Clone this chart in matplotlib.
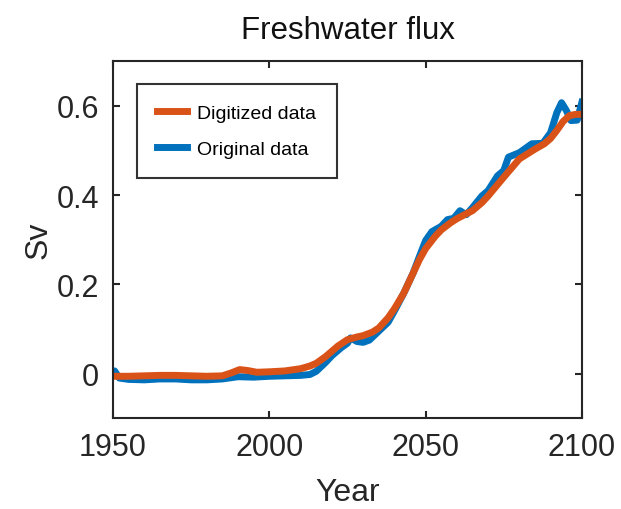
import matplotlib
matplotlib.use('Agg')
import matplotlib.pyplot as plt

plt.rcParams['font.family'] = ['Liberation Sans', 'DejaVu Sans']

dig_years = [1950, 1955, 1960, 1965, 1970, 1975, 1980, 1985, 1988, 1990.5, 1993, 1996,
             2000, 2005, 2010, 2013, 2015, 2018, 2020, 2022, 2025, 2028, 2030, 2033, 2035,
             2038, 2040, 2043, 2045, 2048, 2050, 2053, 2055, 2058, 2060, 2063, 2065, 2068,
             2070, 2075, 2080, 2085, 2088, 2090, 2092, 2094, 2096, 2098, 2100]
dig_vals = [-0.006, -0.006, -0.005, -0.004, -0.004, -0.005, -0.006, -0.005, 0.002, 0.009,
            0.007, 0.003, 0.004, 0.006, 0.011, 0.017, 0.023, 0.038, 0.05, 0.062, 0.076,
            0.082, 0.085, 0.093, 0.102, 0.125, 0.145, 0.18, 0.21, 0.255, 0.28, 0.307,
            0.322, 0.338, 0.347, 0.358, 0.365, 0.383, 0.398, 0.44, 0.481, 0.503, 0.515,
            0.527, 0.545, 0.565, 0.578, 0.581, 0.581]

# original curve (blue)
orig_years = [1950, 1950.5, 1952, 1955, 1960, 1965, 1970, 1975, 1980, 1985, 1990, 1995,
              2000, 2005, 2010, 2013, 2015, 2018, 2020, 2023, 2025, 2026, 2028, 2030,
              2032, 2035, 2038, 2040, 2043, 2046, 2048, 2050, 2052, 2055, 2057, 2059,
              2061, 2063, 2065, 2068, 2070, 2073, 2075, 2076.5, 2080, 2084, 2087.5,
              2090, 2092, 2093.5, 2095, 2096.5, 2098.5, 2100]
orig_vals = [-0.002, 0.006, -0.01, -0.013, -0.014, -0.012, -0.012, -0.014, -0.014, -0.012,
             -0.007, -0.008, -0.006, -0.005, -0.004, -0.002, 0.005, 0.025, 0.04, 0.058,
             0.068, 0.08, 0.072, 0.07, 0.075, 0.095, 0.115, 0.14, 0.18, 0.225, 0.262,
             0.298, 0.318, 0.33, 0.345, 0.348, 0.365, 0.356, 0.372, 0.398, 0.41, 0.443,
             0.455, 0.485, 0.495, 0.515, 0.516, 0.54, 0.585, 0.607, 0.59, 0.567, 0.568,
             0.608]

xticks = [1950, 2000, 2050, 2100]
yticks = [0, 0.2, 0.4, 0.6]
ytick_labels = ['0', '0.2', '0.4', '0.6']

fig = plt.figure(figsize=(6.21, 5.10), dpi=100)
ax = fig.add_axes([0.182, 0.178, 0.755, 0.700])

l_orig, = ax.plot(orig_years, orig_vals, color='#0072BD', lw=5, label='Original data',
                  solid_joinstyle='round')
l_dig, = ax.plot(dig_years, dig_vals, color='#D95319', lw=5, label='Digitized data',
                 solid_joinstyle='round')

ax.set_xlim(1950, 2100)
ax.set_ylim(-0.1, 0.7)
ax.set_xticks(xticks)
ax.set_yticks(yticks)
ax.set_yticklabels(ytick_labels)
ax.tick_params(direction='in', length=5, width=1.5, top=True, right=True,
               labelsize=22, colors='#262626', pad=10)
for s in ax.spines.values():
    s.set_linewidth(1.5)
    s.set_color('#262626')

ax.set_title('Freshwater flux', fontsize=22.5, color='#111111', pad=17)
ax.set_xlabel('Year', fontsize=23, color='#262626', labelpad=11)
ax.set_ylabel('Sv', fontsize=23, color='#262626', labelpad=2)

leg = ax.legend(handles=[l_dig, l_orig], loc='upper left', bbox_to_anchor=(0.051, 0.937),
                fontsize=14, frameon=True, fancybox=False, handlelength=1.55,
                borderpad=1.05, labelspacing=0.95, handletextpad=0.5, borderaxespad=0)
leg.get_frame().set_edgecolor('black')
leg.get_frame().set_linewidth(1.5)

fig.savefig('out.png', dpi=100)
